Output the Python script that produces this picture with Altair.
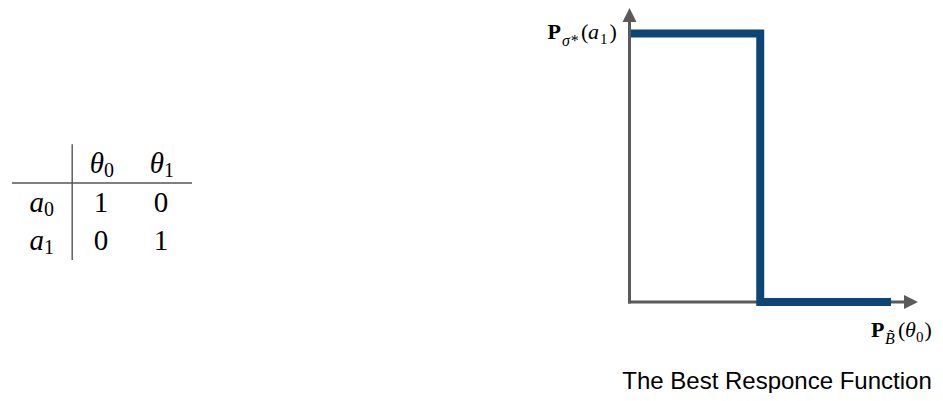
import altair as alt
import pandas as pd

# ---------------- data ----------------
STEP_X = [0, 0.5, 0.5, 1]          # P_B(theta0)
STEP_Y = [1, 1, 0, 0]              # P_sigma*(a1)

HEAD_MAIN = ["θ", "θ"]
HEAD_SUB = ["0", "1"]
ROW_MAIN = ["a", "a"]
ROW_SUB = ["0", "1"]
PAYOFF = [[1, 0], [0, 1]]

CAPTION = "The Best Responce Function"

# ---------------- geometry / scales ----------------
W, H = 927, 385
X_DOM = [-2.3767, 1.1683]
Y_DOM = [-0.3389, 1.095]
TX_DOM = [-0.55, 14.9]
TY_DOM = [-4.286, 5.714]

xs = alt.Scale(domain=X_DOM, nice=False, zero=False)
ys = alt.Scale(domain=Y_DOM, nice=False, zero=False)
txs = alt.Scale(domain=TX_DOM, nice=False, zero=False)
tys = alt.Scale(domain=TY_DOM, nice=False, zero=False, reverse=True)


def PX(f):
    return alt.X(f, type="quantitative", scale=xs, axis=None)


def PY(f):
    return alt.Y(f, type="quantitative", scale=ys, axis=None)


def TX(f):
    return alt.X(f, type="quantitative", scale=txs, axis=None)


def TY(f):
    return alt.Y(f, type="quantitative", scale=tys, axis=None)


GRAY = "#5a5a5a"
BLUE = "#0b4677"
SERIF = "Liberation Serif"

# ---------------- right panel ----------------
step_df = pd.DataFrame({"x": STEP_X, "y": STEP_Y, "i": list(range(len(STEP_X)))})
step = alt.Chart(step_df).mark_line(
    color=BLUE, strokeWidth=8, strokeCap="butt", strokeJoin="miter", clip=False
).encode(x=PX("x"), y=PY("y"), order="i:Q")

xaxis_df = pd.DataFrame({"x": [0], "x2": [1.05], "y": [0]})
xaxis = alt.Chart(xaxis_df).mark_rule(color=GRAY, strokeWidth=3, strokeCap="square").encode(
    x=PX("x"), x2="x2", y=PY("y")
)
yaxis_df = pd.DataFrame({"x": [0], "y": [0], "y2": [1.043]})
yaxis = alt.Chart(yaxis_df).mark_rule(color=GRAY, strokeWidth=3, strokeCap="square").encode(
    x=PX("x"), y=PY("y"), y2="y2"
)

xarrow = alt.Chart(pd.DataFrame({"x": [1.0765], "y": [0]})).mark_point(
    shape="M1,0 L-1,-1 L-1,1 Z", filled=True, color=GRAY, opacity=1, size=196, strokeWidth=0
).encode(x=PX("x"), y=PY("y"))
yarrow = alt.Chart(pd.DataFrame({"x": [0], "y": [1.069]})).mark_point(
    shape="M0,-1 L1,1 L-1,1 Z", filled=True, color=GRAY, opacity=1, size=196, strokeWidth=0
).encode(x=PX("x"), y=PY("y"))

ylab_df = pd.DataFrame({"x": [0], "y": [1]})
xlab_df = pd.DataFrame({"x": [1], "y": [0]})


def piece(df, txt, dx, dy, size, style="normal", weight="normal"):
    return alt.Chart(df).mark_text(
        text=txt, dx=dx, dy=dy, fontSize=size, font=SERIF, fontStyle=style,
        fontWeight=weight, align="left", baseline="alphabetic", color="black"
    ).encode(x=PX("x"), y=PY("y"))


ylab = [
    piece(ylab_df, "P", -82, 5.5, 22, weight="bold"),
    piece(ylab_df, "σ*", -67.5, 12.5, 16, style="italic"),
    piece(ylab_df, "(", -48.5, 5.5, 22),
    piece(ylab_df, "a", -41.5, 5.5, 22, style="italic"),
    piece(ylab_df, "1", -29.5, 10.5, 15),
    piece(ylab_df, ")", -20, 5.5, 22),
]
xlab = [
    piece(xlab_df, "P", -20, 35, 22, weight="bold"),
    piece(xlab_df, "B\u0303", -6, 42, 16, style="italic"),
    piece(xlab_df, "(", 7, 35, 22),
    piece(xlab_df, "θ", 14, 35, 22, style="italic"),
    piece(xlab_df, "0", 25, 39.5, 15),
    piece(xlab_df, ")", 33.5, 35, 22),
]

caption = alt.Chart(pd.DataFrame({"t": [CAPTION]})).mark_text(
    fontSize=24, font="Liberation Sans", align="center", baseline="alphabetic", color="black"
).encode(x=alt.value(769), y=alt.value(381), text="t:N")

# ---------------- left panel: table ----------------
head_df = pd.DataFrame({"c": [1, 2], "r": [0, 0], "m": HEAD_MAIN, "s": HEAD_SUB})
rowl_df = pd.DataFrame({"c": [0, 0], "r": [1, 2], "m": ROW_MAIN, "s": ROW_SUB})
vals = []
for ri, row in enumerate(PAYOFF):
    for ci, v in enumerate(row):
        vals.append({"c": ci + 1, "r": ri + 1, "t": str(v)})
vals_df = pd.DataFrame(vals)

TFS = 29
main_h = alt.Chart(pd.concat([head_df, rowl_df])).mark_text(
    fontSize=TFS, font=SERIF, fontStyle="italic", align="right", baseline="alphabetic", dx=3, color="black"
).encode(x=TX("c"), y=TY("r"), text="m:N")
sub_h = alt.Chart(pd.concat([head_df, rowl_df])).mark_text(
    fontSize=20, font=SERIF, align="left", baseline="alphabetic", dx=3, dy=4, color="black"
).encode(x=TX("c"), y=TY("r"), text="s:N")
vals_t = alt.Chart(vals_df).mark_text(
    fontSize=TFS, font=SERIF, align="center", baseline="alphabetic", color="black"
).encode(x=TX("c"), y=TY("r"), text="t:N")

hline = alt.Chart(pd.DataFrame({"c": [-0.483], "c2": [2.517], "r": [0.26]})).mark_rule(
    color="#555555", strokeWidth=1.4
).encode(x=TX("c"), x2="c2", y=TY("r"))
vline = alt.Chart(pd.DataFrame({"c": [0.52], "r": [-0.75], "r2": [2.26]})).mark_rule(
    color="#555555", strokeWidth=1.4
).encode(x=TX("c"), y=TY("r"), y2="r2")

layers = [hline, vline, main_h, sub_h, vals_t, xaxis, step, yaxis, xarrow, yarrow] + ylab + xlab + [caption]

chart = alt.layer(*layers).resolve_scale(x="independent", y="independent").properties(
    width=W, height=H, padding=0, autosize=alt.AutoSizeParams(type="none")
).configure_view(stroke=None)

chart.save("out.html", embed_options={"renderer": "svg", "actions": False})
